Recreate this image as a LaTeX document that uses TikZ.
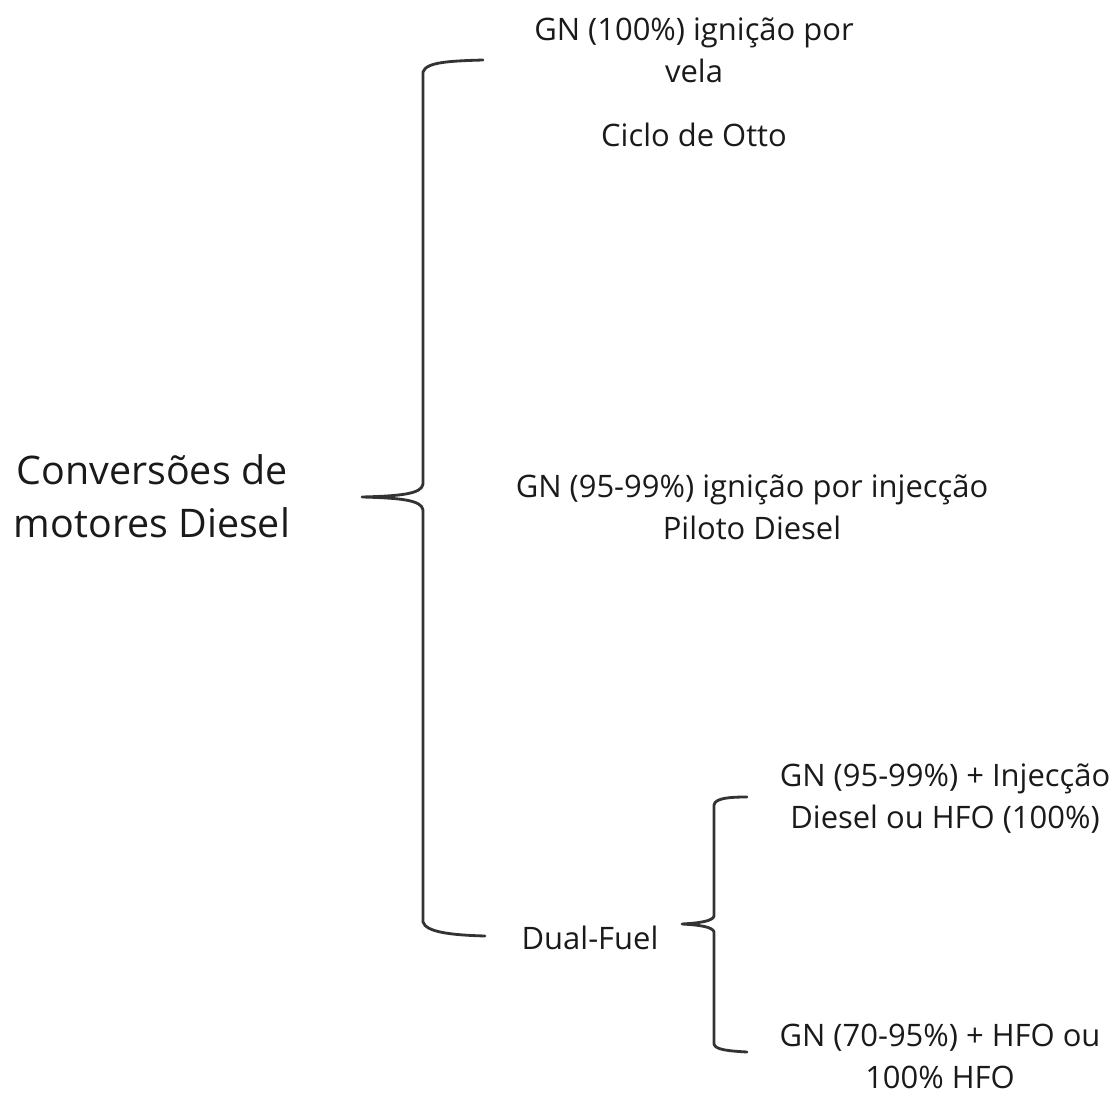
\documentclass[tikz,border=0pt]{standalone}
\usepackage{fontspec}
\setmainfont{Open Sans}
\definecolor{txt}{HTML}{1A1A1A}
\definecolor{brc}{HTML}{333333}
\begin{document}
\begin{tikzpicture}[x=0.01cm,y=-0.01cm,
  small/.style={font=\fontsize{8.8}{11.9}\selectfont,text=txt,align=center,inner sep=0pt},
  big/.style={font=\fontsize{11.2}{15}\selectfont,text=txt,align=center,inner sep=0pt},
  bracestyle/.style={draw=brc,line width=0.8pt,line cap=round,line join=round}]
\useasboundingbox (0,0) rectangle (1115,1094);
% texts
\node[big] (conv) at (152,496) {Conversões de\\motores Diesel};
\node[small] (otto1) at (694,50) {GN (100\%) ignição por\\vela};
\node[small] (otto2) at (694,135) {Ciclo de Otto};
\node[small] (pil) at (752,507) {GN (95-99\%) ignição por injecção\\Piloto Diesel};
\node[small] (dual) at (590,938) {Dual-Fuel};
\node[small] (df1) at (945,799) {GN (95-99\%) + Injecção\\Diesel ou HFO (100\%)};
\node[small] (df2) at (940,1056) {GN (70-95\%) + HFO ou\\100\% HFO};
% big brace
\coordinate (bt) at (483,60);
\coordinate (bm) at (362,497);
\coordinate (bb) at (485,936);
\draw[bracestyle] (bt) .. controls (450,61) and (426,62) .. (423,72)
  -- (423,484) .. controls (422,494) and (400,496) .. (bm)
  .. controls (400,498) and (422,500) .. (423,510)
  -- (423,922) .. controls (426,932) and (450,935) .. (bb);
% small brace
\coordinate (st) at (747,797);
\coordinate (sm) at (682,924);
\coordinate (sb) at (747,1052);
\draw[bracestyle] (st) .. controls (730,797) and (715,798) .. (714,805)
  -- (714,916) .. controls (713,921) and (700,923) .. (sm)
  .. controls (700,925) and (713,927) .. (714,932)
  -- (714,1044) .. controls (715,1050) and (730,1051) .. (sb);
\end{tikzpicture}
\end{document}
